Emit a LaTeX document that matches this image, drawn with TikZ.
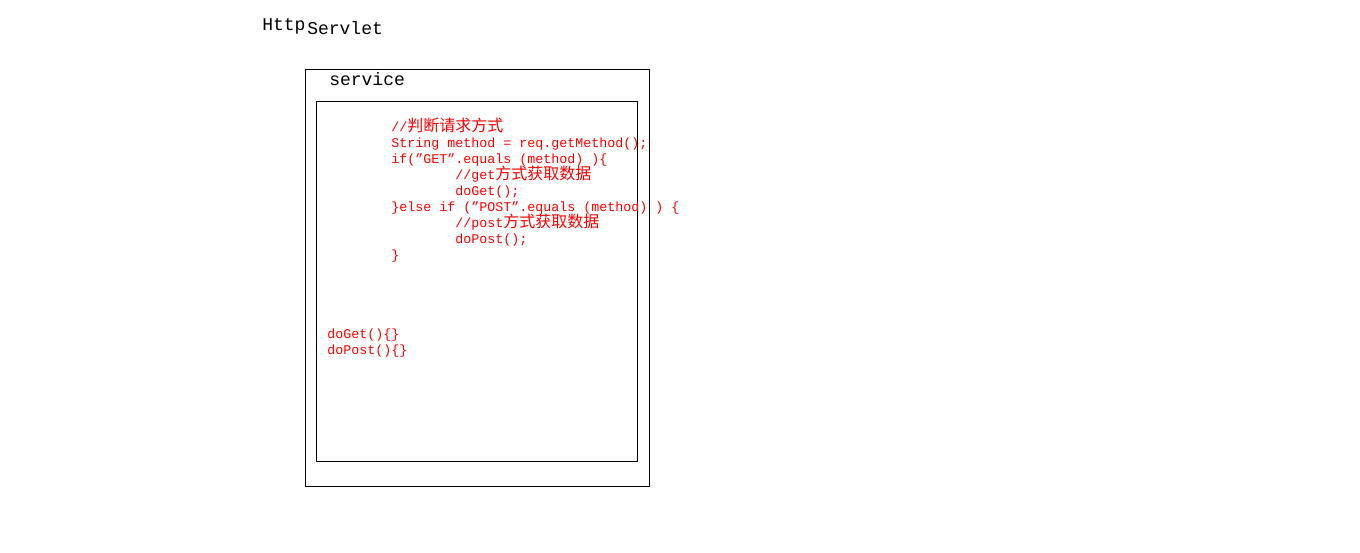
\documentclass[tikz,border=0pt]{standalone}
\usepackage{fontspec}
\setmonofont{Liberation Mono}
\newfontfamily\cjk{Noto Sans CJK SC}[Scale=1.2]
\newfontfamily\codefont{Liberation Mono}
\begin{document}
\begin{tikzpicture}[x=0.75pt,y=-0.75pt,
  frame/.style={draw=black,line width=0.75pt},
  code/.style={anchor=base west,inner sep=0pt,text=red,font=\codefont\fontsize{10pt}{12pt}\selectfont},
  title/.style={anchor=base west,inner sep=0pt,font=\codefont\fontsize{13.5pt}{16pt}\selectfont}]
\useasboundingbox (0,0) rectangle (1360,553);
\draw[frame] (305.5,69.5) rectangle (649.5,486.5);
\draw[frame] (316.5,101.5) rectangle (637.5,461.5);
\node[title] (http) at (262,31) {Http};
\node[title] (servlet) at (307,34) {Servlet};
\node[title] (service) at (329,85) {service};
\node[code] (l1) at (391,131) {//{\cjk 判断请求方式}};
\node[code] (l2) at (391,147) {String method = req.getMethod();};
\node[code] (l3) at (391,163) {if(”GET”.equals (method) )\{};
\node[code] (l4) at (455,179) {//get{\cjk 方式获取数据}};
\node[code] (l5) at (455,195) {doGet();};
\node[code] (l6) at (391,211) {\}else if (”POST”.equals (method) ) \{};
\node[code] (l7) at (455,227) {//post{\cjk 方式获取数据}};
\node[code] (l8) at (455,243) {doPost();};
\node[code] (l9) at (391,259) {\}};
\node[code] (m1) at (327,338) {doGet()\{\}};
\node[code] (m2) at (327,354) {doPost()\{\}};
\end{tikzpicture}
\end{document}
